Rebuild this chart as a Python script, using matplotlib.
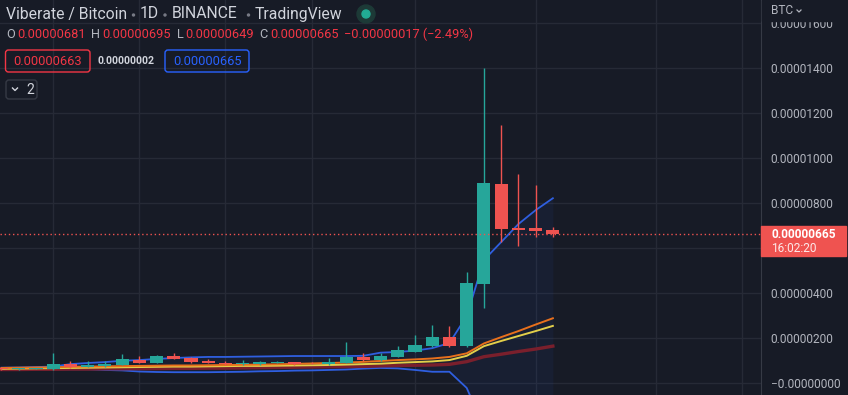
import matplotlib.pyplot as plt
from matplotlib.patches import FancyBboxPatch, Circle, Rectangle
from matplotlib.ticker import FuncFormatter
import numpy as np

plt.rcParams['font.family'] = ['Roboto', 'DejaVu Sans']

# daily candles, values in satoshi (1e-8 BTC)
opens  = [68, 62, 63, 62, 84, 71, 75, 80, 102, 89, 120, 111, 98, 89, 84, 84, 89,
          93, 90, 84, 89, 116, 102, 116, 138, 164, 204, 164, 440, 884, 689, 689, 681]
highs  = [70, 66, 67, 133, 98, 98, 98, 129, 120, 124, 133, 115, 107, 98, 102, 98, 98,
          95, 93, 111, 182, 133, 133, 164, 213, 258, 253, 493, 1400, 1147, 929, 880, 695]
lows   = [58, 60, 61, 60, 68, 69, 73, 78, 87, 87, 105, 91, 87, 82, 82, 82, 87,
          82, 85, 82, 87, 100, 98, 114, 136, 162, 162, 162, 333, 627, 610, 650, 649]
closes = [61, 65, 66, 84, 70, 80, 84, 107, 89, 120, 107, 93, 89, 84, 89, 93, 93,
          84, 87, 93, 116, 102, 120, 147, 169, 204, 164, 444, 889, 684, 682, 676, 665]

# indicator lines (satoshi)
bb_upper = [68, 69, 71, 73, 84, 89, 93, 99, 102, 107, 111, 114, 116, 116, 117, 118, 119,
            120, 120, 120, 120, 121, 135, 138, 144, 155, 178, 298, 547, 627, 707, 769, 822]
bb_lower = [61, 61, 61, 61, 61, 61, 58, 56, 51, 49, 48, 48, 48, 49, 50, 52, 53,
            55, 56, 58, 60, 64, 67, 65, 58, 50, 50, -22, -197, -219, -241, -245, -242]
ma_fast  = [67, 68, 69, 70, 72, 73, 74, 75, 76, 77, 78, 78, 79, 80, 81, 82, 83,
            85, 87, 89, 91, 94, 98, 102, 105, 109, 116, 132, 176, 204, 231, 260, 288]
ma_mid   = [63, 64, 65, 66, 67, 68, 69, 70, 71, 72, 73, 73, 74, 75, 76, 76, 77,
            78, 79, 80, 82, 84, 86, 90, 93, 96, 102, 121, 164, 187, 209, 231, 254]
ma_slow  = [60, 60, 61, 61, 62, 62, 63, 63, 64, 64, 65, 65, 66, 66, 67, 68, 69,
            70, 71, 72, 73, 74, 76, 78, 79, 80, 83, 95, 117, 128, 140, 151, 164]

time_ticks = [3, 8, 13, 18, 24, 31, 38, 43]
price_ticks = [0, 200, 400, 600, 800, 1000, 1200, 1400, 1600]
hidden_tick = 600   # sits under the last-price label
last_price = 665

SAT = 1e-8
BG = '#171b26'
GRID = '#262a36'
UP, DOWN = '#26a69a', '#ef5350'

fig = plt.figure(figsize=(8.48, 3.95), dpi=100, facecolor=BG)
ax = fig.add_axes([0, 0, 761 / 848, 1], facecolor=BG)

x = np.arange(len(opens))
o, h, l, c = (np.array(v) * SAT for v in (opens, highs, lows, closes))

ax.fill_between(x, np.array(bb_lower) * SAT, np.array(bb_upper) * SAT,
                color='#2962ff', alpha=0.06, lw=0, zorder=1)
ax.plot(x, np.array(bb_upper) * SAT, color='#2f5fe0', lw=1.3, zorder=2)
ax.plot(x, np.array(bb_lower) * SAT, color='#2f5fe0', lw=1.3, zorder=2)
ax.plot(x, np.array(ma_slow) * SAT, color='#7a1f2c', lw=2.4, zorder=2)
ax.plot(x, np.array(ma_mid) * SAT, color='#e3cf4a', lw=1.4, zorder=2)
ax.plot(x, np.array(ma_fast) * SAT, color='#e8701c', lw=1.4, zorder=2)

cols = [UP if cc >= oo else DOWN for oo, cc in zip(o, c)]
ax.vlines(x, l, h, colors=cols, lw=1, zorder=3)
body = np.maximum(np.abs(c - o), 4 * SAT)
ax.bar(x, body, bottom=np.minimum(o, c), width=0.76, color=cols, lw=0, zorder=4)

ax.axhline(last_price * SAT, color=DOWN, lw=1, ls=(0, (1, 2)), zorder=5)

ax.set_xlim(-0.087, 44.08)
ax.set_ylim(-53.4 * SAT, 1704 * SAT)
ax.set_xticks(time_ticks)
ax.set_yticks([p * SAT for p in price_ticks])
ax.grid(True, color=GRID, lw=1, zorder=0)
ax.set_axisbelow(True)
ax.tick_params(axis='x', length=0, labelbottom=False)
ax.yaxis.tick_right()
ax.tick_params(axis='y', length=0, pad=7, labelcolor='#b2b5be', labelsize=8.6)


def fmt(v, pos):
    if abs(v) < 1e-12:
        return '\u22120.00000000'
    if abs(v - hidden_tick * SAT) < 1e-12:
        return ''
    return f'{v:.8f}'


ax.yaxis.set_major_formatter(FuncFormatter(fmt))
for s in ('top', 'bottom', 'left'):
    ax.spines[s].set_visible(False)
ax.spines['right'].set_color('#363a45')

# overlay in pixel coordinates for the header and labels
ov = fig.add_axes([0, 0, 1, 1])
ov.set_xlim(0, 848)
ov.set_ylim(395, 0)
ov.set_facecolor('none')
ov.axis('off')

TXT = '#d1d4dc'
GREY = '#b2b5be'
for s, xx in [('Viberate / Bitcoin', 6), ('1D', 140), ('BINANCE', 172), ('TradingView', 255)]:
    ov.text(xx, 14, s, color=TXT, fontsize=11.3, va='center', ha='left')
for xx in (133.5, 165, 248.5):
    ov.add_patch(Circle((xx, 15), 1.0, color='#787b86'))
ov.add_patch(Circle((366, 14), 9, color='#1d3a37'))
ov.add_patch(Circle((366, 14), 4, color='#22ab94'))

ohlc = [('O', 6, '0.00000681', 17), ('H', 91, '0.00000695', 102),
        ('L', 177, '0.00000649', 185), ('C', 259, '0.00000665', 270)]
for k, kx, v, vx in ohlc:
    ov.text(kx, 34, k, color=GREY, fontsize=9.2, va='center')
    ov.text(vx, 34, v, color='#f23645', fontsize=9.2, va='center')
ov.text(344, 34, '\u22120.00000017 (\u22122.49%)', color='#f23645', fontsize=9.2, va='center')

ov.add_patch(FancyBboxPatch((5.5, 50), 84.5, 22, boxstyle='round,pad=0,rounding_size=3',
                            fc='none', ec='#f23645', lw=1))
ov.text(47.5, 61.5, '0.00000663', color='#f23645', fontsize=9.3, ha='center', va='center')
ov.text(126, 61.5, '0.00000002', color=TXT, fontsize=7.6, fontweight='bold',
        ha='center', va='center')
ov.add_patch(FancyBboxPatch((165, 50), 84, 22, boxstyle='round,pad=0,rounding_size=3',
                            fc='none', ec='#2962ff', lw=1))
ov.text(207, 61.5, '0.00000665', color='#2962ff', fontsize=9.3, ha='center', va='center')

ov.add_patch(FancyBboxPatch((6, 80), 31, 19, boxstyle='round,pad=0,rounding_size=3',
                            fc='none', ec='#363a45', lw=1))
ov.plot([12.5, 15, 17.5], [88, 90.5, 88], color=TXT, lw=1)
ov.text(26, 89.5, '2', color=TXT, fontsize=10, ha='left', va='center')

# currency header covers the top of the highest price label
ov.add_patch(Rectangle((762, 0), 86, 21, color=BG))
ov.text(771, 11, 'BTC', color=GREY, fontsize=8.6, va='center', ha='left')
ov.plot([797, 799, 801], [10, 12, 10], color=GREY, lw=0.9)

ov.add_patch(Rectangle((761, 226), 85, 30, color=DOWN))
ov.text(771, 234.5, '0.00000665', color='white', fontsize=8.6, fontweight='bold',
        va='center', ha='left')
ov.text(771, 248, '16:02:20', color='#fde8e8', fontsize=8.6, va='center', ha='left')

fig.savefig('out.png', dpi=100, facecolor=BG)
